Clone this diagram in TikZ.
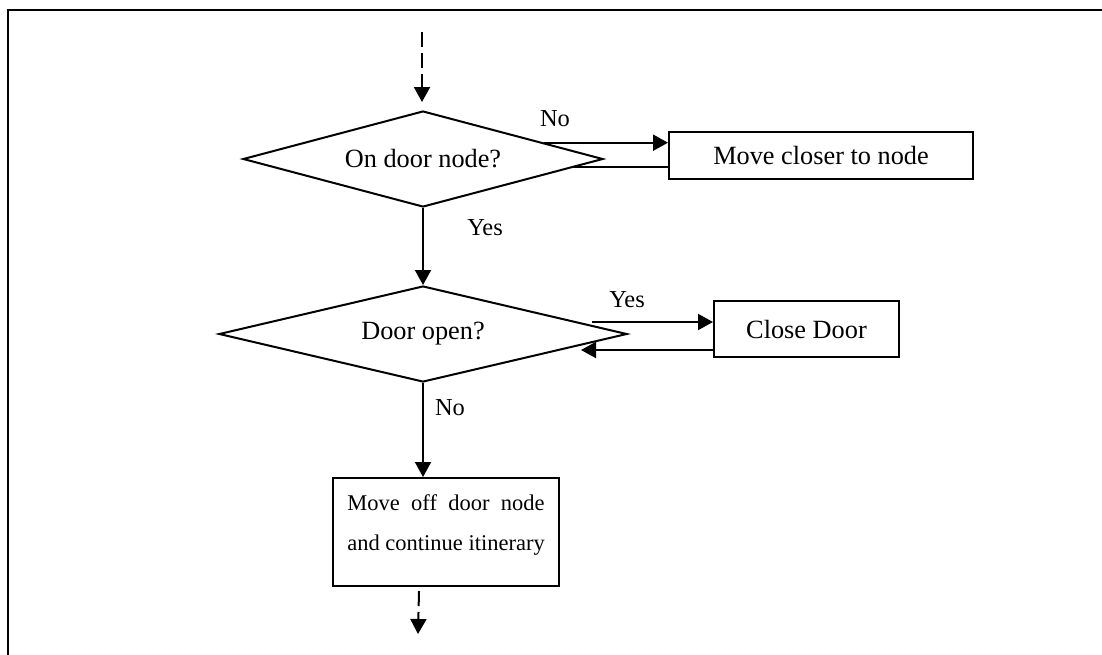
\documentclass[tikz,border=0pt]{standalone}
\usepackage{fontspec}
\setmainfont{Liberation Serif}
\usepackage{calc}
\usetikzlibrary{shapes.geometric,arrows.meta,calc}
\begin{document}
\begin{tikzpicture}[x=0.5pt,y=-0.5pt,
  line width=1pt,
  txt/.style={font=\fontsize{13.15}{16}\selectfont},
  small/.style={font=\fontsize{11.25}{20}\selectfont},
  decision/.style={diamond,aspect=4,draw,inner sep=0pt,txt},
  process/.style={rectangle,draw,inner sep=0pt,txt},
  flow/.style={-{Triangle[width=8pt,length=7.5pt]}},
  dashflow/.style={flow,dash pattern=on 7.5pt off 3pt},
  lbl/.style={inner sep=0pt,font=\fontsize{12.2}{14}\selectfont}]
\useasboundingbox (0,0) rectangle (1102,654);
% page frame (open to the right and bottom)
\draw (8,670) -- (8,10) -- (1120,10);

% decisions and actions
\node[decision,minimum width=180pt,minimum height=48pt] (d1) at (423,159) {On door node?};
\node[process,minimum width=152pt,minimum height=23.5pt] (m1) at (821,155.5) {Move closer to node};
\node[decision,minimum width=204pt,minimum height=48pt] (d2) at (423,334) {Door open?};
\node[process,minimum width=92.5pt,minimum height=28pt] (m2) at (806.5,329) {Close Door};
\node[process,minimum width=113pt,minimum height=54pt,
  label={[inner sep=0pt,small,align=center,yshift=3.5pt]center:{\makebox[\widthof{and continue itinerary}][s]{Move off door node}\\and continue itinerary}}]
  (m3) at (446,532) {};

% entry and exit
\coordinate (in) at (422,32);
\coordinate (outa) at (419,591);
\coordinate (outb) at (418,634);
\draw[dashflow,shorten >=4pt] (in) -- (in |- d1.north);
\draw[dashflow] (outa) -- (outb);

% "No" branch of the first test
\coordinate (n1) at ($(d1.north)!0.667!(d1.east)$);
\coordinate (r1) at ($(d1.east)!0.1667!(d1.south)$);
\draw[flow] (n1) -- (n1 -| m1.west);
\draw (r1 -| m1.west) -- (r1);
\node[lbl] (no1) at (555,119) {No};

% "Yes" from the first test
\draw[flow] (d1.south) -- (d2.north);
\node[lbl] (yes1) at (485,228) {Yes};

% "Yes" branch of the second test
\coordinate (y2) at (592,322);
\coordinate (r2) at (581,350);
\draw[flow] (y2) -- (y2 -| m2.west);
\draw[flow] (r2 -| m2.west) -- (r2);
\node[lbl] (yes2) at (627,300) {Yes};

% "No" from the second test
\draw[flow] (d2.south) -- (d2.south |- m3.north);
\node[lbl] (no2) at (450,408) {No};
\end{tikzpicture}
\end{document}
